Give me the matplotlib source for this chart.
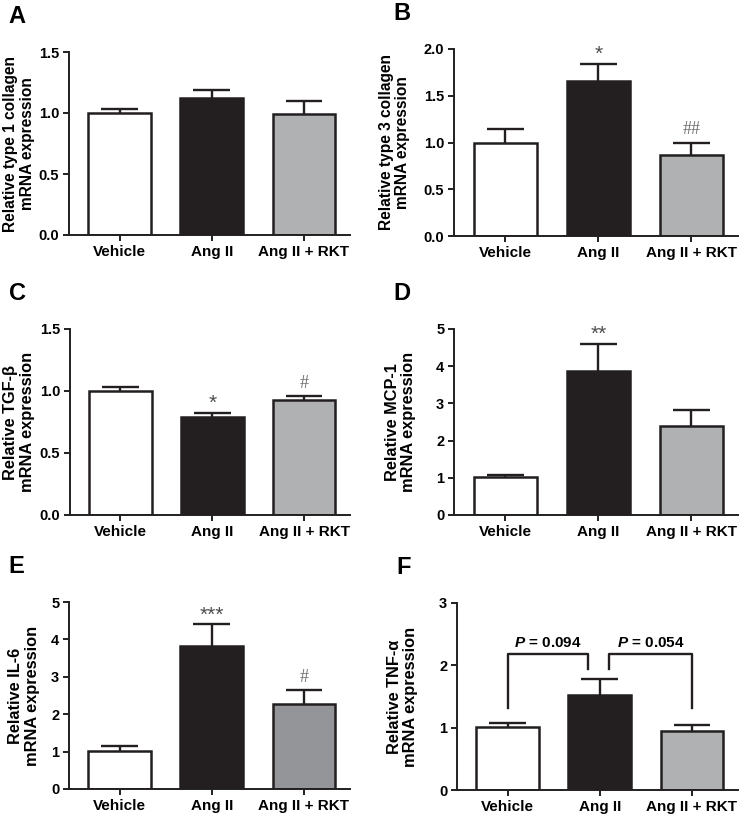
import matplotlib
matplotlib.use("Agg")
import matplotlib.pyplot as plt
import numpy as np

plt.rcParams["font.family"] = ["Liberation Sans", "DejaVu Sans"]
plt.rcParams["font.weight"] = "bold"
plt.rcParams["mathtext.fontset"] = "custom"
plt.rcParams["mathtext.it"] = "Liberation Sans:italic:bold"
plt.rcParams["mathtext.rm"] = "Liberation Sans:bold"

# ---- data ----
groups = ["Vehicle", "Ang II", "Ang II + RKT"]

col1_mean = [1.00, 1.12, 0.99]
col1_err = [0.03, 0.07, 0.11]

col3_mean = [1.00, 1.66, 0.87]
col3_err = [0.14, 0.18, 0.13]

tgf_mean = [1.00, 0.79, 0.93]
tgf_err = [0.03, 0.03, 0.03]

mcp_mean = [1.02, 3.88, 2.39]
mcp_err = [0.05, 0.73, 0.43]

il6_mean = [1.01, 3.82, 2.28]
il6_err = [0.15, 0.58, 0.37]

tnf_mean = [1.01, 1.52, 0.94]
tnf_err = [0.07, 0.255, 0.10]

sig_b = ["", "*", "##"]
sig_c = ["", "*", "#"]
sig_d = ["", "**", ""]
sig_e = ["", "***", "#"]

p_labels = ["$P$ = 0.094", "$P$ = 0.054"]

# ---- style ----
EDGE = "#231f20"
WHITE = "#ffffff"
BLACK = "#231f20"
GRAY = "#afb1b3"
DARK_GRAY = "#939598"
W, H = 742, 815

panels = [
    # letter, mean, err, ymax, ticks, ylabel, rect px (l, r, t, b), ylabel x px, label size, spacing, colors, marks, fmt
    ("A", col1_mean, col1_err, 1.5, [0, 0.5, 1.0, 1.5], "Relative type 1 collagen\nmRNA expression",
     (69, 350, 52, 235), 35, 11.2, 1.2, [WHITE, BLACK, GRAY], None, "%.1f"),
    ("B", col3_mean, col3_err, 2.0, [0, 0.5, 1.0, 1.5, 2.0], "Relative type 3 collagen\nmRNA expression",
     (454, 738, 49, 236), 410, 11.2, 1.05, [WHITE, BLACK, GRAY], sig_b, "%.1f"),
    ("C", tgf_mean, tgf_err, 1.5, [0, 0.5, 1.0, 1.5], "Relative TGF-β\nmRNA expression",
     (70, 350, 329, 515), 35, 11.8, 1.2, [WHITE, BLACK, GRAY], sig_c, "%.1f"),
    ("D", mcp_mean, mcp_err, 5, [0, 1, 2, 3, 4, 5], "Relative MCP-1\nmRNA expression",
     (454, 738, 329, 515), 416, 11.8, 1.05, [WHITE, BLACK, GRAY], sig_d, "%d"),
    ("E", il6_mean, il6_err, 5, [0, 1, 2, 3, 4, 5], "Relative IL-6\nmRNA expression",
     (69, 350, 602, 789), 40, 11.8, 1.2, [WHITE, BLACK, DARK_GRAY], sig_e, "%d"),
    ("F", tnf_mean, tnf_err, 3, [0, 1, 2, 3], "Relative TNF-α\nmRNA expression",
     (457, 738, 603, 790), 418, 11.8, 1.05, [WHITE, BLACK, GRAY], None, "%d"),
]

fig = plt.figure(figsize=(W / 100, H / 100), dpi=100)
x = np.arange(len(groups))

for (letter, mean, err, ymax, ticks, ylabel, (l, r, t, b), lab_x, lab_fs, lab_ls,
     colors, marks, fmt) in panels:
    ax = fig.add_axes([l / W, 1 - b / H, (r - l) / W, (b - t) / H])
    tops = np.array(mean) + np.array(err)
    # error bars (upper only)
    ax.vlines(x, mean, tops, color=EDGE, lw=1.7, zorder=1)
    ax.hlines(tops, x - 0.2, x + 0.2, color=EDGE, lw=1.7, zorder=1)
    ax.bar(x, mean, width=0.68, color=colors, edgecolor=EDGE, linewidth=1.8, zorder=2)

    ax.set_xlim(-0.55, 2.5)
    ax.set_ylim(0, ymax)
    ax.set_yticks(ticks)
    ax.set_yticklabels([fmt % v for v in ticks])
    ax.set_xticks(x)
    ax.set_xticklabels(groups)
    for s in ["top", "right"]:
        ax.spines[s].set_visible(False)
    for s in ["left", "bottom"]:
        ax.spines[s].set_linewidth(1.4)
        ax.spines[s].set_color(EDGE)
    ax.tick_params(direction="out", length=4, width=1.4, color=EDGE, pad=3)
    ax.tick_params(axis="x", labelsize=11)
    ax.tick_params(axis="y", labelsize=10.5)
    ax.set_ylabel(ylabel, fontsize=lab_fs, fontweight="bold", linespacing=lab_ls)
    ax.yaxis.set_label_coords((lab_x - l) / (r - l), 0.5)

    if marks:
        for i, m in enumerate(marks):
            if not m:
                continue
            if "#" in m:
                ax.annotate(m, (i, tops[i]), xytext=(0, 3), textcoords="offset points",
                            ha="center", va="bottom", fontsize=13, color="#6d6e70",
                            family="Liberation Serif", fontweight="normal")
            else:
                ax.annotate(m, (i, tops[i]), xytext=(0, 0), textcoords="offset points",
                            ha="center", va="bottom", fontsize=15, color="#4d4d4f",
                            fontweight="normal")

    fig.text((l - 61) / W, 1 - (t - 47) / H, letter, fontsize=17, fontweight="bold",
             ha="left", va="top")

    if letter == "F":
        # brackets
        y_top, y_low, y_in = 2.18, 1.31, 1.94
        ax.plot([0, 0, 0.87, 0.87], [y_low, y_top, y_top, y_in], color=EDGE, lw=1.7)
        ax.plot([1.105, 1.105, 2, 2], [y_in, y_top, y_top, y_low], color=EDGE, lw=1.7)
        ax.text(0.435, 2.30, p_labels[0], ha="center", va="baseline", fontsize=11)
        ax.text(1.55, 2.30, p_labels[1], ha="center", va="baseline", fontsize=11)

fig.savefig("out.png", dpi=100, facecolor="white")
